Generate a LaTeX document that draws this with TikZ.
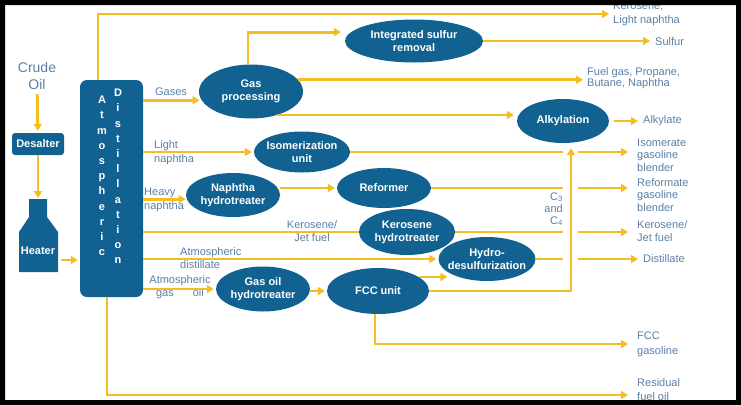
\documentclass[tikz,border=0pt]{standalone}
\usepackage{fontspec}
\setmainfont{Liberation Sans}
\usetikzlibrary{shapes.geometric, arrows.meta}
\definecolor{unitblue}{HTML}{126291}
\definecolor{flowyellow}{HTML}{F5BD1F}
\definecolor{tagblue}{HTML}{5A80A8}
\tikzset{
    > = {Triangle[length=7pt, width=8pt]},
    flow/.style = {draw=flowyellow, line width=2.9pt},
    unit/.style = {ellipse, fill=unitblue, text=white, align=center,
        font=\bfseries\fontsize{11}{13}\selectfont, inner sep=0pt},
    box/.style = {rectangle, rounded corners=3pt, fill=unitblue, text=white,
        font=\bfseries\fontsize{11}{13}\selectfont, inner sep=0pt},
    colchars/.style = {text=white, align=center, inner sep=0pt,
        font=\bfseries\fontsize{11}{15.2}\selectfont},
    tag/.style = {text=tagblue, align=left, inner sep=0pt,
        font=\fontsize{11}{13}\selectfont}
}

\begin{document}
\begin{tikzpicture}[x=1pt, y=-1pt]
    \useasboundingbox (0,0) rectangle (741,405);
    \fill[white] (0,0) rectangle (741,405);

    % feed, desalter, heater
    \node[tag, align=center, font=\fontsize{14}{17}\selectfont] (crude) at (37,76) {Crude\\Oil};
    \node[box, minimum width=52pt, minimum height=22pt] (des) at (38,144) {Desalter};
    \fill[unitblue] (29,199) -- (47,199) -- (47,217) -- (58,232) -- (58,272)
        -- (19,272) -- (19,232) -- (29,217) -- cycle;
    \node[box, fill=none] (heat) at (38,251) {Heater};
    \coordinate (heattop) at (38,199);
    \coordinate (heatout) at (61,260);

    % distillation column
    \node[box, rounded corners=7pt, minimum width=63pt, minimum height=217pt] (col) at (111.5,188.5) {};
    \node[colchars] (atm) at (102,176) {A\\t\\m\\o\\s\\p\\h\\e\\r\\i\\c};
    \node[colchars] (dist) at (118,176.5) {D\\i\\s\\t\\i\\l\\l\\a\\t\\i\\o\\n};

    % process units
    \node[unit, minimum width=104pt, minimum height=54pt] (gp) at (251,91.5) {Gas\\processing};
    \node[unit, minimum width=138pt, minimum height=43pt] (isr) at (414,41) {Integrated sulfur\\removal};
    \node[unit, minimum width=92pt, minimum height=44pt] (alk) at (563,121) {Alkylation};
    \node[unit, minimum width=96pt, minimum height=41pt, inner xsep=-3pt] (iso) at (302,152) {Isomerization\\unit};
    \node[unit, minimum width=94pt, minimum height=40pt] (ref) at (384,188) {Reformer};
    \node[unit, minimum width=94pt, minimum height=44pt] (nht) at (233,195) {Naphtha\\hydrotreater};
    \node[unit, minimum width=96pt, minimum height=46pt] (kht) at (407,232) {Kerosene\\hydrotreater};
    \node[unit, minimum width=97pt, minimum height=44pt, inner xsep=-6pt] (hds) at (487,259) {Hydro-\\desulfurization};
    \node[unit, minimum width=94pt, minimum height=45pt] (goh) at (263,289) {Gas oil\\hydrotreater};
    \node[unit, minimum width=102pt, minimum height=46pt] (fcc) at (378,291) {FCC unit};

    % stream labels
    \node[tag, anchor=west, font=\fontsize{11}{14}\selectfont] (klt) at (613,14) {Kerosene,\\Light naphtha};
    \node[tag, anchor=west] (sulf) at (655,42) {Sulfur};
    \node[tag, anchor=west, font=\fontsize{11}{11}\selectfont] (fuel) at (587,78) {Fuel gas, Propane,\\Butane, Naphtha};
    \node[tag, anchor=west] (alkl) at (643,121) {Alkylate};
    \node[tag, anchor=west, font=\fontsize{11}{12.5}\selectfont] (isol) at (637,155) {Isomerate\\gasoline\\blender};
    \node[tag, anchor=west, font=\fontsize{11}{12.5}\selectfont] (refl) at (637,195) {Reformate\\gasoline\\blender};
    \node[tag, anchor=west] (kerol) at (637,231) {Kerosene/\\Jet fuel};
    \node[tag, anchor=west] (distl) at (643,259) {Distillate};
    \node[tag, anchor=west, font=\fontsize{11}{15}\selectfont] (fccg) at (637,344) {FCC\\gasoline};
    \node[tag, anchor=west, font=\fontsize{11}{14}\selectfont] (resl) at (637,390) {Residual\\fuel oil};
    \node[tag] (gasesl) at (171,92) {Gases};
    \node[tag, anchor=west, font=\fontsize{11}{14}\selectfont] (lnl) at (154,153) {Light\\naphtha};
    \node[tag, anchor=west, font=\fontsize{11}{14}\selectfont] (hnl) at (144,200) {Heavy\\naphtha};
    \node[tag, align=center] (kjl) at (312,231.5) {Kerosene/\\Jet fuel};
    \node[tag, anchor=west] (adl) at (180,258.5) {Atmospheric\\distillate};
    \node[tag, align=center] (agl) at (180,287.5) {Atmospheric\\gas\hspace{19pt}oil};
    \node[tag, anchor=east, align=right, font=\fontsize{11}{12}\selectfont] (c34) at (563,209) {C\textsubscript{3}\\and\\C\textsubscript{4}};

    \coordinate (gapl) at (563,0);
    \coordinate (gapr) at (578,0);
    \coordinate (outx) at (628,0);
    \coordinate (residin) at (628,395);

    % feed side
    \draw[flow, ->, shorten <=4pt, shorten >=2pt] (crude) -- (des);
    \draw[flow, ->, shorten >=1pt] (des) -- (heattop);
    \draw[flow, ->, shorten >=2pt] (heatout) -- (col.west |- heatout);

    % column draws
    \draw[flow, ->, shorten >=4pt] ([xshift=-13.5pt]col.north) |- (klt.west);
    \draw[flow, ->, shorten >=2pt] (col.east |- gp.190) -- (gp.190);
    \draw[flow, ->, shorten >=2pt] (col.east |- iso.west) -- (iso.west);
    \draw[flow, ->, shorten >=1pt] (col.east |- nht.185) -- (nht.185);
    \draw[flow] (col.east |- kht.west) -- (kht.west);
    \draw[flow, ->, shorten >=2pt] (col.east |- hds.west) -- (hds.west);
    \draw[flow, ->, shorten >=2pt] (col.east |- goh.west) -- (goh.west);
    \draw[flow, ->] ([xshift=-4.5pt]col.south) |- (residin);

    % gas processing
    \draw[flow, ->, shorten >=10pt] ([xshift=-3pt]gp.north) |- (isr.172);
    \draw[flow, ->, shorten >=5pt] (isr.east) -- (isr.east -| sulf.west);
    \draw[flow, ->, shorten >=4pt] (gp.14) -- (gp.14 -| fuel.west);
    \draw[flow, ->, shorten >=3pt] (gp.-42) -- (gp.-42 -| alk.west);
    \draw[flow, ->, shorten <=5pt, shorten >=5pt] (alk.east) -- (alk.east -| alkl.west);

    % naphtha, kerosene, gas oil trains
    \draw[flow, ->, shorten >=2pt] (nht.east |- ref.west) -- (ref.west);
    \draw[flow, ->, shorten >=2pt] (goh.east |- fcc.west) -- (fcc.west);
    \draw[flow, ->] (fcc.19) -- ([xshift=9pt]fcc.19 -| hds.west);
    \draw[flow, ->, shorten >=5pt] (fcc.east) -| ([xshift=8pt]alk.south);
    \draw[flow, ->] ([xshift=-3pt]fcc.south) |- (fccg.west -| outx);

    % products crossing the C3/C4 line
    \draw[flow] (iso.east) -- (iso.east -| gapl);
    \draw[flow, ->] (iso.east -| gapr) -- (iso.east -| outx);
    \draw[flow] (ref.east) -- (ref.east -| gapl);
    \draw[flow, ->] (ref.east -| gapr) -- (ref.east -| outx);
    \draw[flow] (kht.east) -- (kht.east -| gapl);
    \draw[flow, ->] (kht.east -| gapr) -- (kht.east -| outx);
    \draw[flow] (hds.east) -- (hds.east -| gapl);
    \draw[flow, ->, shorten >=5pt] (hds.east -| gapr) -- (hds.east -| distl.west);

    % frame
    \fill[black, even odd rule] (0,0) rectangle (741,405) (5,5) rectangle (736,400);
\end{tikzpicture}
\end{document}
